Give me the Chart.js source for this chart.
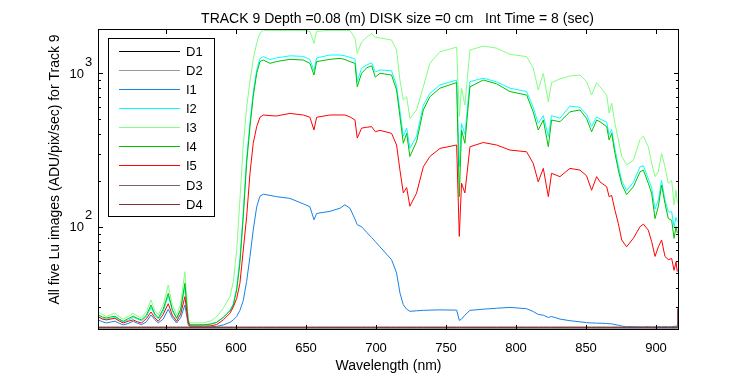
<!DOCTYPE html>
<html>
<head>
<meta charset="utf-8">
<title>TRACK 9 Lu images</title>
<script src="https://cdn.jsdelivr.net/npm/chart.js@4.4.0/dist/chart.umd.min.js"></script>
<style>
  html, body { margin: 0; padding: 0; background: #fff; }
  #wrap { width: 750px; height: 375px; }
</style>
</head>
<body>
<div id="wrap"><canvas id="chart" width="750" height="375"></canvas></div>
<script>
// wavelength grid (nm), shared by every trace
const wavelengths = [
  501.6, 504.5, 507.6, 510.5, 513.5, 516.5, 519.5, 523.0, 526.6, 529.5,
  532.6, 536.0, 539.3, 542.0, 544.5, 548.0, 551.6, 554.5, 557.6, 560.5,
  563.5, 565.9, 567.1, 576.6, 582.0, 586.2, 590.9, 595.7, 598.1, 600.5,
  602.8, 605.2, 607.6, 610.0, 612.3, 614.8, 617.1, 619.5, 624.3, 629.0,
  638.5, 648.0, 652.8, 655.7, 657.6, 667.1, 674.3, 677.8, 681.4, 685.0,
  686.6, 689.7, 693.3, 696.9, 699.5, 702.8, 711.1, 714.7, 717.1, 719.5,
  721.9, 724.2, 729.0, 733.8, 738.5, 745.7, 757.6, 759.5, 761.1, 763.5,
  767.1, 776.6, 786.1, 795.7, 807.6, 812.3, 815.9, 819.5, 823.1, 825.4,
  831.4, 838.5, 845.7, 850.4, 854.0, 857.6, 860.0, 864.8, 866.5, 868.3,
  870.7, 873.1, 875.5, 879.0, 883.8, 888.6, 891.0, 894.5, 896.9, 899.3,
  901.7, 904.0, 906.4, 908.8, 911.2, 912.9, 914.3, 915.2, 915.6
];

// Lu images, ADU/pix/sec
const I1 = [
  24.7, 24.0, 23.6, 23.9, 24.2, 23.5, 22.9, 23.4, 24.2, 23.5,
  23.0, 24.0, 26.6, 24.8, 23.6, 25.0, 29.0, 25.5, 23.6, 25.5,
  30.9, 22.9, 22.3, 22.2, 22.3, 22.4, 22.9, 23.8, 24.7, 26.0,
  28.5, 33, 44, 64, 95, 135, 158, 163, 160, 157,
  153, 141, 135, 111, 122, 126, 132, 139, 132, 112,
  103, 100, 92, 85, 80, 74, 61, 50, 37, 31,
  29, 28.1, 28.3, 28.5, 28.6, 28.7, 28.6, 24.5, 25.0, 26.5,
  28.5, 29.0, 29.4, 29.8, 29.2, 28.0, 26.8, 26.5, 25.6, 26.0,
  25.0, 24.4, 24.0, 23.7, 23.6, 23.5, 23.5, 23.4, 23.3, 23.3,
  23.0, 22.8, 22.5, 22.3, 22.3, 22.2, 22.2, 22.3, 22.2, 22.2,
  22.3, 22.2, 22.3, 22.2, 22.3, 22.4, 22.5, 22.5, 22.5
];
const I2 = [
  26.0, 25.2, 25.0, 25.3, 25.6, 24.8, 24.0, 24.6, 25.6, 25.0,
  24.4, 26.0, 29.8, 26.5, 25.0, 28.0, 35.5, 28.5, 25.0, 28.5,
  41.0, 24.0, 23.0, 23.0, 23.2, 23.8, 25.6, 28.5, 31.5, 40,
  62, 125, 280, 480, 750, 1050, 1250, 1285, 1230, 1260,
  1300, 1290, 1230, 1040, 1260, 1316, 1316, 1300, 1270, 1240,
  880, 1080, 1133, 1170, 1020, 1051, 1040, 830, 570, 390,
  440, 324, 390, 620, 740, 840, 904, 246, 470, 400,
  883, 930, 880, 800, 760, 600, 472, 530, 387, 530,
  510, 612, 600, 540, 450, 520, 505, 480, 400, 430,
  320, 250, 200, 172, 195, 246, 250, 205, 180, 130,
  150, 200, 150, 125, 125, 100, 115, 108, 108
];
const I3 = [
  27.8, 26.8, 26.0, 26.8, 27.3, 26.0, 25.0, 26.0, 27.3, 26.2,
  25.5, 28.0, 33.3, 28.5, 26.6, 31.0, 41.7, 31.0, 26.6, 31.5,
  50.9, 25.0, 23.6, 23.6, 24.3, 25.9, 29.4, 35.0, 44.0, 70,
  150, 340, 600, 890, 1230, 1580, 1830, 1905, 1905, 1900,
  1905, 1900, 1880, 1570, 1880, 1905, 1905, 1900, 1900, 1700,
  1345, 1600, 1720, 1810, 1720, 1700, 1649, 1418, 904, 670,
  704, 508, 577, 817, 1162, 1382, 1480, 522, 800, 621,
  1418, 1505, 1460, 1330, 1285, 1085, 778, 1000, 650, 870,
  920, 960, 975, 883, 722, 870, 817, 722, 550, 640,
  472, 368, 287, 253, 270, 370, 390, 332, 259, 212,
  230, 300, 246, 192, 200, 139, 173, 142, 142
];
const I4 = [
  26.6, 25.8, 25.4, 25.8, 26.1, 25.0, 24.2, 25.2, 26.1, 25.3,
  24.7, 26.5, 30.9, 27.0, 25.4, 29.0, 36.8, 28.8, 25.4, 29.0,
  42.8, 24.2, 22.9, 22.9, 23.2, 23.8, 25.6, 28.3, 30.9, 38.7,
  57.8, 116, 259, 449, 704, 1000, 1193, 1221, 1162, 1193,
  1234, 1221, 1162, 975, 1193, 1234, 1252, 1230, 1193, 1160,
  817, 1000, 1085, 1120, 945, 1000, 975, 778, 522, 350,
  406, 287, 359, 577, 704, 800, 870, 157, 427, 350,
  817, 904, 855, 760, 722, 561, 427, 496, 332, 496,
  483, 561, 577, 508, 416, 496, 483, 449, 368, 406,
  300, 234, 190, 162, 182, 228, 234, 192, 165, 113,
  136, 187, 142, 113, 110, 84, 100, 91, 91
];
const I5 = [
  25.9, 25.0, 24.7, 25.0, 25.3, 24.3, 23.6, 24.2, 24.7, 24.0,
  23.6, 25.2, 27.8, 25.5, 24.2, 26.8, 31.5, 26.5, 24.2, 27.0,
  35.0, 23.6, 22.5, 22.5, 22.6, 23.0, 24.7, 27.3, 30.0, 34.1,
  42.8, 70.5, 116, 223, 350, 449, 517, 535, 530, 527,
  548, 535, 517, 427, 517, 535, 535, 535, 520, 496,
  378, 439, 445, 449, 416, 425, 406, 341, 234, 166,
  180, 136, 166, 246, 287, 324, 341, 86.5, 192, 166,
  332, 354, 341, 316, 308, 259, 196, 240, 157, 223,
  212, 240, 234, 215, 173, 212, 196, 182, 157, 160,
  128, 105, 82, 74, 84, 100, 104, 95, 80, 64,
  74, 82, 64, 61, 62, 52, 59, 51, 51
];

// dark frames
const D1 = [
  21.9, 21.9, 21.9, 21.9, 21.9, 21.9, 21.9, 21.9, 21.9, 21.9,
  21.9, 21.9, 21.9, 21.9, 21.9, 21.9, 21.9, 21.9, 21.9, 21.9,
  21.9, 21.9, 21.9, 21.9, 21.9, 21.9, 21.9, 21.9, 21.9, 21.9,
  21.9, 21.9, 21.9, 21.9, 21.9, 21.9, 21.9, 21.9, 21.9, 21.9,
  21.9, 21.9, 21.9, 21.9, 21.9, 21.9, 21.9, 21.9, 21.9, 21.9,
  21.9, 21.9, 21.9, 21.9, 21.9, 21.9, 21.9, 21.9, 21.9, 21.9,
  21.9, 21.9, 21.9, 21.9, 21.9, 21.9, 21.9, 21.9, 21.9, 21.9,
  21.9, 21.9, 21.9, 21.9, 21.9, 21.9, 21.9, 21.9, 21.9, 21.9,
  21.9, 21.9, 21.9, 21.9, 21.9, 21.9, 21.9, 21.9, 21.9, 21.9,
  21.9, 21.9, 21.9, 21.9, 21.9, 21.9, 21.9, 21.9, 21.9, 21.9,
  21.9, 21.9, 21.9, 21.9, 21.9, 21.9, 21.9, 21.9, 22.0
];
const D2 = [
  21.9, 21.9, 21.9, 21.9, 21.9, 21.9, 21.9, 21.9, 21.9, 21.9,
  21.9, 21.9, 21.9, 21.9, 21.9, 21.9, 21.9, 21.9, 21.9, 21.9,
  21.9, 21.9, 21.9, 21.9, 21.9, 21.9, 21.9, 21.9, 21.9, 21.9,
  21.9, 21.9, 21.9, 21.9, 21.9, 21.9, 21.9, 21.9, 21.9, 21.9,
  21.9, 21.9, 21.9, 21.9, 21.9, 21.9, 21.9, 21.9, 21.9, 21.9,
  21.9, 21.9, 21.9, 21.9, 21.9, 21.9, 21.9, 21.9, 21.9, 21.9,
  21.9, 21.9, 21.9, 21.9, 21.9, 21.9, 21.9, 21.9, 21.9, 21.9,
  21.9, 21.9, 21.9, 21.9, 21.9, 21.9, 21.9, 21.9, 21.9, 21.9,
  21.9, 21.9, 21.9, 21.9, 21.9, 21.9, 21.9, 21.9, 21.9, 21.9,
  21.9, 21.9, 21.9, 21.9, 21.9, 21.9, 21.9, 21.9, 21.9, 21.9,
  21.9, 21.9, 21.9, 21.9, 21.9, 21.9, 21.9, 21.9, 22.0
];
const D3 = [
  22.2, 22.2, 22.2, 22.2, 22.2, 22.2, 22.2, 22.2, 22.2, 22.2,
  22.2, 22.2, 22.2, 22.2, 22.2, 22.2, 22.2, 22.2, 22.2, 22.2,
  22.2, 22.2, 22.2, 22.2, 22.2, 22.2, 22.2, 22.2, 22.2, 22.2,
  22.2, 22.2, 22.2, 22.2, 22.2, 22.2, 22.2, 22.2, 22.2, 22.2,
  22.2, 22.2, 22.2, 22.2, 22.2, 22.2, 22.2, 22.2, 22.2, 22.2,
  22.2, 22.2, 22.2, 22.2, 22.2, 22.2, 22.2, 22.2, 22.2, 22.2,
  22.2, 22.2, 22.2, 22.2, 22.2, 22.2, 22.2, 22.2, 22.2, 22.2,
  22.2, 22.2, 22.2, 22.2, 22.2, 22.2, 22.2, 22.2, 22.2, 22.2,
  22.2, 22.2, 22.2, 22.2, 22.2, 22.2, 22.2, 22.2, 22.2, 22.2,
  22.2, 22.2, 22.2, 22.2, 22.2, 22.2, 22.2, 22.2, 22.2, 22.2,
  22.2, 22.2, 22.2, 22.2, 22.2, 22.2, 22.2, 22.3, 29.5
];
const D4 = [
  22.0, 22.0, 22.0, 22.0, 22.0, 22.0, 22.0, 22.0, 22.0, 22.0,
  22.0, 22.0, 22.0, 22.0, 22.0, 22.0, 22.0, 22.0, 22.0, 22.0,
  22.0, 22.0, 22.0, 22.0, 22.0, 22.0, 22.0, 22.0, 22.0, 22.0,
  22.0, 22.0, 22.0, 22.0, 22.0, 22.0, 22.0, 22.0, 22.0, 22.0,
  22.0, 22.0, 22.0, 22.0, 22.0, 22.0, 22.0, 22.0, 22.0, 22.0,
  22.0, 22.0, 22.0, 22.0, 22.0, 22.0, 22.0, 22.0, 22.0, 22.0,
  22.0, 22.0, 22.0, 22.0, 22.0, 22.0, 22.0, 22.0, 22.0, 22.0,
  22.0, 22.0, 22.0, 22.0, 22.0, 22.0, 22.0, 22.0, 22.0, 22.0,
  22.0, 22.0, 22.0, 22.0, 22.0, 22.0, 22.0, 22.0, 22.0, 22.0,
  22.0, 22.0, 22.0, 22.0, 22.0, 22.0, 22.0, 22.0, 22.0, 22.0,
  22.0, 22.0, 22.0, 22.0, 22.0, 22.0, 22.0, 22.1, 29.0
];

const seriesNames = ['D1', 'D2', 'I1', 'I2', 'I3', 'I4', 'I5', 'D3', 'D4'];
const seriesValues = [D1, D2, I1, I2, I3, I4, I5, D3, D4];
const seriesColors = ['#000000', '#999999', '#1a80e6', '#00ffff', '#80ff80', '#00c000', '#ff0000', '#806060', '#803535'];

// axis limits and ticks
const xMin = 501.43, xMax = 916.43;
const yMin = 21.22, yMax = 1945;
const yMajorTicks = [100, 1000];
const yMajorExponents = ['2', '3'];
const yMinorTicks = [30, 40, 50, 60, 70, 80, 90, 200, 300, 400, 500, 600, 700, 800, 900];

const titleText = 'TRACK 9 Depth =0.08 (m) DISK size =0 cm   Int Time = 8 (sec)';
const yTitleText = 'All five Lu images (ADU/pix/sec) for Track 9';
const xTitleText = 'Wavelength (nm)';

const FONT = "'Liberation Sans', Arial, Helvetica, sans-serif";
Chart.defaults.font.family = FONT;
Chart.defaults.color = '#000';

// frame, inward ticks, y labels with exponents, titles and the boxed legend
const decorations = {
  id: 'decorations',
  afterDraw(chart) {
    const { ctx, chartArea: a, scales: { x, y } } = chart;
    ctx.save();
    ctx.strokeStyle = '#000';
    ctx.lineWidth = 1;
    ctx.strokeRect(a.left + 0.5, a.top + 0.5, a.width - 1, a.height - 1);

    ctx.beginPath();
    x.ticks.forEach(t => {
      const px = Math.round(x.getPixelForValue(t.value)) + 0.5;
      ctx.moveTo(px, a.bottom); ctx.lineTo(px, a.bottom - 5);
      ctx.moveTo(px, a.top); ctx.lineTo(px, a.top + 5);
    });
    yMajorTicks.forEach(v => {
      const py = Math.round(y.getPixelForValue(v)) + 0.5;
      ctx.moveTo(a.left, py); ctx.lineTo(a.left + 5, py);
      ctx.moveTo(a.right, py); ctx.lineTo(a.right - 5, py);
    });
    yMinorTicks.forEach(v => {
      const py = Math.round(y.getPixelForValue(v)) + 0.5;
      ctx.moveTo(a.left, py); ctx.lineTo(a.left + 3, py);
      ctx.moveTo(a.right, py); ctx.lineTo(a.right - 3, py);
    });
    ctx.stroke();

    ctx.fillStyle = '#000';
    ctx.font = '13px ' + FONT;
    ctx.textBaseline = 'middle';
    yMajorTicks.forEach((v, i) => {
      const py = y.getPixelForValue(v);
      ctx.textAlign = 'right';
      ctx.fillText('10', a.left - 14, py + 1);
      ctx.textAlign = 'left';
      ctx.fillText(yMajorExponents[i], a.left - 13, py - 11);
    });

    ctx.font = '14px ' + FONT;
    ctx.textAlign = 'center';
    ctx.fillText(titleText, (a.left + a.right) / 2 + 9, 19);

    ctx.save();
    ctx.translate(55, (a.top + a.bottom) / 2 - 10);
    ctx.rotate(-Math.PI / 2);
    ctx.fillText(yTitleText, 0, 0);
    ctx.restore();

    // legend
    const lx = a.left + 10, ly = a.top + 9, lw = 106, lh = 178, rowH = 19.16;
    ctx.fillStyle = '#fff';
    ctx.fillRect(lx + 0.5, ly + 0.5, lw, lh);
    ctx.strokeStyle = '#000';
    ctx.strokeRect(lx + 0.5, ly + 0.5, lw, lh);
    ctx.font = '13px ' + FONT;
    ctx.textAlign = 'left';
    seriesNames.forEach((name, i) => {
      const ry = Math.round(ly + 12.5 + i * rowH);
      ctx.fillStyle = seriesColors[i];
      ctx.fillRect(lx + 11, ry, 61, 1);
      ctx.fillStyle = '#000';
      ctx.fillText(name, lx + 78, ry + 1.5);
    });
    ctx.restore();
  }
};

const chart = new Chart(document.getElementById('chart'), {
  type: 'line',
  data: {
    datasets: seriesNames.map((name, i) => ({
      label: name,
      data: wavelengths.map((w, k) => ({ x: w, y: seriesValues[i][k] })),
      borderColor: seriesColors[i],
      backgroundColor: seriesColors[i],
      borderWidth: 1,
      pointRadius: 0,
      tension: 0,
      fill: false,
      order: -i
    }))
  },
  options: {
    responsive: false,
    animation: false,
    devicePixelRatio: 1,
    layout: { padding: { left: 46, right: 71, top: 29, bottom: 0 } },
    plugins: {
      legend: { display: false },
      title: { display: false },
      tooltip: { enabled: false }
    },
    scales: {
      x: {
        type: 'linear',
        min: xMin,
        max: xMax,
        grid: { display: false },
        border: { display: false },
        ticks: {
          stepSize: 50,
          includeBounds: false,
          autoSkip: false,
          maxRotation: 0,
          padding: 3,
          color: '#000',
          font: { size: 13 }
        },
        title: {
          display: true,
          text: xTitleText,
          color: '#000',
          font: { size: 14 },
          padding: { top: 0, bottom: 0 }
        },
        afterFit: scale => { scale.height = 45; }
      },
      y: {
        type: 'logarithmic',
        min: yMin,
        max: yMax,
        grid: { display: false },
        border: { display: false },
        ticks: { display: false },
        afterFit: scale => { scale.width = 52; }
      }
    }
  },
  plugins: [decorations]
});
</script>
</body>
</html>
